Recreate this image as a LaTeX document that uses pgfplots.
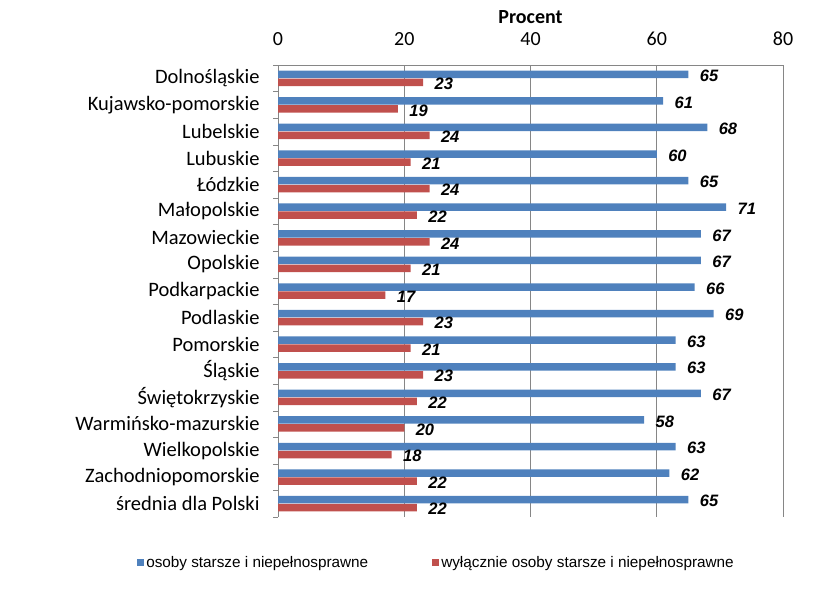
\documentclass[border=0pt]{standalone}
\usepackage{pgfplots}
\pgfplotsset{compat=1.18}
\usepackage{fontspec}
\setmainfont{Carlito}
\newfontfamily\arialf{Liberation Sans}
\newfontfamily\legf{Liberation Sans}
\definecolor{sblue}{HTML}{4F81BD}
\definecolor{sred}{HTML}{C0504D}
\definecolor{gridg}{HTML}{868686}
\begin{document}
\begin{tikzpicture}[x=1pt,y=1pt]
\useasboundingbox (0,0) rectangle (837,592);
\begin{axis}[
 at={(278pt,75pt)}, anchor=south west,
 scale only axis, width=505pt, height=452pt,
 /pgf/number format/assume math mode=true,
 xbar, bar width=7.5pt,
 xmin=0, xmax=80, xtick={0,20,40,60,80},
 ymin=-0.5, ymax=16.5, y dir=reverse,
 ytick={0,...,16},
 yticklabels={Dolnośląskie,Kujawsko-pomorskie,Lubelskie,Lubuskie,Łódzkie,Małopolskie,Mazowieckie,Opolskie,Podkarpackie,Podlaskie,Pomorskie,Śląskie,Świętokrzyskie,Warmińsko-mazurskie,Wielkopolskie,Zachodniopomorskie,średnia dla Polski},
 minor ytick={-0.5,0.5,...,16.5},
 axis y line*=left, axis x line*=top,
 x axis line style={gridg},
 y axis line style={gridg},
 xmajorgrids, grid style={gridg, line width=0.7pt},
 major x tick style={draw=none},
 major y tick style={draw=none},
 minor y tick style={gridg},
 minor tick length=5pt,
 tick align=outside,
 yticklabel style={font=\fontsize{20.5}{22}\selectfont, inner sep=2pt, xshift=-12pt},
 xticklabel style={font=\fontsize{20}{21}\selectfont, yshift=12pt},
 xlabel={\bfseries Procent},
 xlabel style={font=\fontsize{20}{22}\selectfont, yshift=1pt},
 nodes near coords={\pgfmathprintnumber{\pgfplotspointmeta}},
 nodes near coords style={font=\arialf\fontsize{16.5}{17}\selectfont\bfseries\itshape, anchor=west, xshift=8pt, yshift=-1.5pt, text=black},
 legend style={at={(axis description cs:-0.285,-0.101)}, anchor=west, draw=none, legend columns=2, font=\legf\fontsize{15.3}{16}\selectfont,
   nodes={inner sep=2pt}, /tikz/every even column/.append style={column sep=62pt}},
 legend image code/.code={\fill[#1] (0pt,-3.5pt) rectangle (7pt,3.5pt);},
]
\addplot[fill=sblue, draw=none, bar shift=4pt] coordinates {
 (65,0) (61,1) (68,2) (60,3) (65,4) (71,5) (67,6) (67,7) (66,8) (69,9) (63,10) (63,11) (67,12) (58,13) (63,14) (62,15) (65,16)};
\addplot[fill=sred, draw=none, bar shift=-4pt] coordinates {
 (23,0) (19,1) (24,2) (21,3) (24,4) (22,5) (24,6) (21,7) (17,8) (23,9) (21,10) (23,11) (22,12) (20,13) (18,14) (22,15) (22,16)};
\legend{osoby starsze i niepełnosprawne, wyłącznie osoby starsze i niepełnosprawne}
\end{axis}
\end{tikzpicture}
\end{document}
